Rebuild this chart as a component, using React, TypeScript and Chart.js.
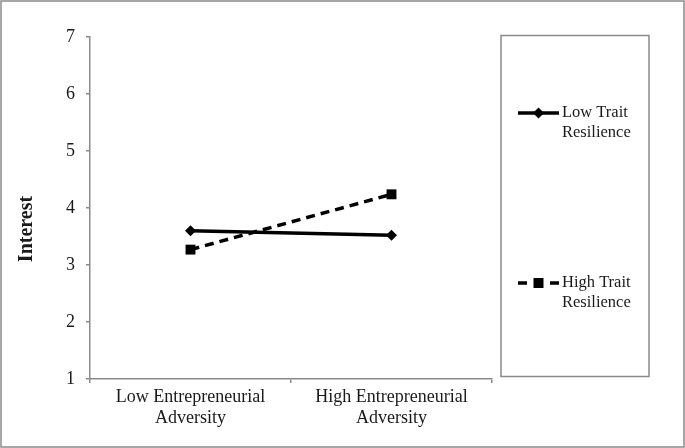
import React, { useEffect, useRef } from "react";
import { Chart, registerables } from "chart.js";

Chart.register(...registerables);

const categories: string[][] = [
  ["Low Entrepreneurial", "Adversity"],
  ["High Entrepreneurial", "Adversity"],
];
const lowTraitResilience: number[] = [3.6, 3.52];
const highTraitResilience: number[] = [3.27, 4.24];
const seriesLabels: string[][] = [
  ["Low Trait", "Resilience"],
  ["High Trait", "Resilience"],
];
const yTicks = { min: 1, max: 7, step: 1 };
const yTitle = "Interest";

const FONT = "'Liberation Serif', 'Times New Roman', serif";
const GRAY = "#8a8a8a";
const TEXT = "#1a1a1a";

const decorPlugin = {
  id: "decor",
  afterDraw(chart: any) {
    const ctx = chart.ctx as CanvasRenderingContext2D;
    const area = chart.chartArea;
    ctx.save();
    // outer border
    ctx.strokeStyle = GRAY;
    ctx.lineWidth = 1.5;
    ctx.strokeRect(1, 1, chart.width - 2, chart.height - 2);

    // y title
    ctx.save();
    ctx.translate(27, (area.top + chart.height - 27) / 2);
    ctx.rotate(-Math.PI / 2);
    ctx.font = `bold 20px ${FONT}`;
    ctx.fillStyle = TEXT;
    ctx.textAlign = "center";
    ctx.textBaseline = "middle";
    ctx.fillText(yTitle, 0, 0);
    ctx.restore();

    // legend box
    const bx = 501, by = 35.5, bw = 148, bh = 341;
    ctx.strokeStyle = GRAY;
    ctx.lineWidth = 1.5;
    ctx.strokeRect(bx, by, bw, bh);

    const itemYs = [113, 283];
    chart.data.datasets.forEach((ds: any, i: number) => {
      const y = itemYs[i];
      const x0 = 518, x1 = 559, xm = (x0 + x1) / 2;
      ctx.strokeStyle = ds.borderColor;
      ctx.lineWidth = ds.borderWidth;
      ctx.setLineDash(ds.borderDash && ds.borderDash.length ? [9, 7] : []);
      ctx.lineDashOffset = 0;
      ctx.beginPath();
      ctx.moveTo(x0, y);
      ctx.lineTo(x1, y);
      ctx.stroke();
      ctx.setLineDash([]);
      ctx.fillStyle = ds.pointBackgroundColor;
      if (ds.pointStyle === "rect") {
        ctx.fillRect(xm - 5, y - 5, 10, 10);
      } else {
        const r = 5.5;
        ctx.beginPath();
        ctx.moveTo(xm, y - r);
        ctx.lineTo(xm + r, y);
        ctx.lineTo(xm, y + r);
        ctx.lineTo(xm - r, y);
        ctx.closePath();
        ctx.fill();
      }
      ctx.fillStyle = TEXT;
      ctx.font = `16.5px ${FONT}`;
      ctx.textAlign = "left";
      ctx.textBaseline = "middle";
      const lines: string[] = seriesLabels[i];
      lines.forEach((t, k) => ctx.fillText(t, 562, y + k * 19.5));
    });
    ctx.restore();
  },
};

export default function App() {
  const ref = useRef<HTMLCanvasElement | null>(null);
  useEffect(() => {
    document.body.style.margin = "0";
    if (!ref.current) return;
    const chart = new Chart(ref.current, {
      type: "line",
      data: {
        labels: categories as any,
        datasets: [
          {
            label: seriesLabels[0].join(" "),
            data: lowTraitResilience,
            borderColor: "#000",
            backgroundColor: "#000",
            pointBackgroundColor: "#000",
            pointBorderColor: "#000",
            borderWidth: 3.5,
            pointStyle: "rectRot",
            pointRadius: 5.5,
            pointBorderWidth: 0,
            borderDash: [],
          },
          {
            label: seriesLabels[1].join(" "),
            data: highTraitResilience,
            borderColor: "#000",
            backgroundColor: "#000",
            pointBackgroundColor: "#000",
            pointBorderColor: "#000",
            borderWidth: 3.5,
            pointStyle: "rect",
            pointRadius: 7,
            pointBorderWidth: 0,
            borderDash: [9, 6],
          },
        ] as any,
      },
      options: {
        animation: false,
        responsive: false,
        maintainAspectRatio: false,
        layout: { padding: { left: 0, right: 193, top: 37, bottom: 0 } },
        plugins: { legend: { display: false }, tooltip: { enabled: false } },
        scales: {
          x: {
            offset: true,
            grid: {
              offset: true,
              drawOnChartArea: false,
              drawTicks: true,
              tickLength: 4,
              color: GRAY,
              lineWidth: 1.5,
            },
            border: { display: true, color: GRAY, width: 1.5 },
            ticks: {
              font: { family: FONT, size: 18 },
              color: TEXT,
              padding: 3,
              maxRotation: 0,
              autoSkip: false,
            },
            afterFit: (s: any) => {
              s.height = 69;
            },
          },
          y: {
            min: yTicks.min,
            max: yTicks.max,
            grid: {
              drawOnChartArea: false,
              drawTicks: true,
              tickLength: 4,
              color: GRAY,
              lineWidth: 1.5,
            },
            border: { display: true, color: GRAY, width: 1.5 },
            ticks: {
              stepSize: yTicks.step,
              font: { family: FONT, size: 18 },
              color: TEXT,
              padding: 11,
            },
            afterFit: (s: any) => {
              s.width = 90;
            },
          },
        },
      },
      plugins: [decorPlugin],
    });
    return () => chart.destroy();
  }, []);
  return <canvas ref={ref} width={685} height={448} style={{ display: "block" }} />;
}
